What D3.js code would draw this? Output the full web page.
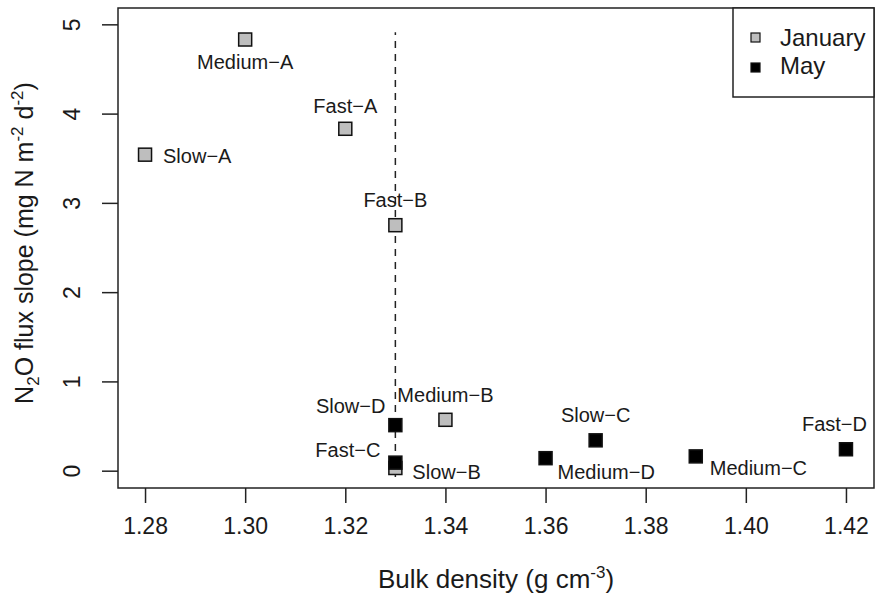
<!DOCTYPE html>
<html>
<head>
<meta charset="utf-8">
<script src="https://cdn.jsdelivr.net/npm/d3@7"></script>
<style>
  body { margin: 0; background: #fff; }
  text { font-family: "Liberation Sans", Arial, sans-serif; fill: #1a1a1a; }
</style>
</head>
<body>
<script>
// 데이터
var names   = ["Medium-A", "Fast-A", "Slow-A", "Fast-B", "Medium-B", "Slow-B",
               "Slow-D", "Fast-C", "Medium-D", "Slow-C", "Medium-C", "Fast-D"];
var density = [1.30, 1.32, 1.28, 1.33, 1.34, 1.33,
               1.33, 1.33, 1.36, 1.37, 1.39, 1.42];
var slope   = [4.83, 3.83, 3.54, 2.75, 0.57, 0.03,
               0.51, 0.09, 0.14, 0.34, 0.16, 0.24];
var month   = ["January", "January", "January", "January", "January", "January",
               "May", "May", "May", "May", "May", "May"];
var months  = ["January", "May"];
var xTicks  = [1.28, 1.30, 1.32, 1.34, 1.36, 1.38, 1.40, 1.42];
var yTicks  = [0, 1, 2, 3, 4, 5];
var refX = 1.33, refY = [-0.07, 4.91];   // 점선 기준선

// 레이블 위치 (점 기준 픽셀 오프셋)
var labelPos = {
  "Medium-A": ["middle", 0, 29],  "Fast-A":   ["middle", 0, -16],
  "Slow-A":   ["start", 18, 8],   "Fast-B":   ["middle", 0, -18],
  "Medium-B": ["middle", 0, -18], "Slow-B":   ["start", 17, 11],
  "Slow-D":   ["end", -10, -12],  "Fast-C":   ["end", -15, -6],
  "Medium-D": ["start", 12, 21],  "Slow-C":   ["middle", 0, -18],
  "Medium-C": ["start", 14, 19],  "Fast-D":   ["end", 21, -18]
};

var W = 875, H = 601;
var pL = 118, pR = 874, pT = 8, pB = 488;

var svg = d3.select("body").append("svg")
  .attr("width", W).attr("height", H);

var x = d3.scaleLinear().domain([1.2746, 1.4256]).range([pL, pR]);
var y = d3.scaleLinear().domain([-0.194, 5.183]).range([pB, pT]);

var fill = { "January": "#bebebe", "May": "#000" };

// 축
var xAxis = svg.append("g")
  .attr("transform", "translate(0," + pB + ")")
  .call(d3.axisBottom(x).tickValues(xTicks).tickFormat(d3.format(".2f"))
        .tickSize(15).tickPadding(15));
xAxis.select(".domain").remove();
xAxis.selectAll("line").attr("stroke", "#222").attr("stroke-width", 1.5);
xAxis.selectAll("text").attr("font-size", "23px").attr("fill", "#1a1a1a")
  .attr("font-family", "Liberation Sans, Arial, sans-serif");

var yAxis = svg.append("g")
  .attr("transform", "translate(" + pL + ",0)")
  .call(d3.axisLeft(y).tickValues(yTicks).tickSize(16).tickFormat(d3.format("d")));
yAxis.select(".domain").remove();
yAxis.selectAll("line").attr("stroke", "#222").attr("stroke-width", 1.5);
yAxis.selectAll("text").remove();
yAxis.selectAll(".tick").append("text")
  .attr("transform", "translate(-38,0) rotate(-90)")
  .attr("text-anchor", "middle")
  .attr("font-size", "23px")
  .text(function (d) { return d; });

// 외곽 박스
svg.append("rect")
  .attr("x", pL).attr("y", pT)
  .attr("width", pR - pL).attr("height", pB - pT)
  .attr("fill", "none").attr("stroke", "#222").attr("stroke-width", 1.5);

// 점선
svg.append("line")
  .attr("x1", x(refX)).attr("x2", x(refX))
  .attr("y1", y(refY[0])).attr("y2", y(refY[1]))
  .attr("stroke", "#222").attr("stroke-width", 1.5)
  .attr("stroke-dasharray", "7,6");

// 점
var idx = d3.range(names.length);
svg.selectAll("rect.pt")
  .data(idx)
  .enter()
  .append("rect")
  .attr("class", "pt")
  .attr("x", function (i) { return x(density[i]) - 6.5; })
  .attr("y", function (i) { return y(slope[i]) - 6.5; })
  .attr("width", 13).attr("height", 13)
  .attr("fill", function (i) { return fill[month[i]]; })
  .attr("stroke", "#111").attr("stroke-width", 1.5);

// 점 레이블
svg.selectAll("text.lab")
  .data(idx)
  .enter()
  .append("text")
  .attr("class", "lab")
  .attr("x", function (i) { return x(density[i]) + labelPos[names[i]][1]; })
  .attr("y", function (i) { return y(slope[i]) + labelPos[names[i]][2]; })
  .attr("text-anchor", function (i) { return labelPos[names[i]][0]; })
  .attr("font-size", "20px")
  .text(function (i) { return names[i].replace("-", "\u2212"); });

// 축 제목
var xt = svg.append("text")
  .attr("x", (pL + pR) / 2).attr("y", 588)
  .attr("text-anchor", "middle").attr("font-size", "26px");
xt.append("tspan").text("Bulk density (g cm");
xt.append("tspan").attr("dy", -10).attr("font-size", "17px").text("-3");
xt.append("tspan").attr("dy", 10).text(")");

var yt = svg.append("text")
  .attr("transform", "translate(33,243) rotate(-90)")
  .attr("text-anchor", "middle").attr("font-size", "25px");
yt.append("tspan").text("N");
yt.append("tspan").attr("dy", 6).attr("font-size", "17px").text("2");
yt.append("tspan").attr("dy", -6).text("O flux slope (mg N m");
yt.append("tspan").attr("dy", -10).attr("font-size", "17px").text("-2");
yt.append("tspan").attr("dy", 10).text(" d");
yt.append("tspan").attr("dy", -10).attr("font-size", "17px").text("-2");
yt.append("tspan").attr("dy", 10).text(")");

// 범례
var lg = svg.append("g");
lg.append("rect")
  .attr("x", 733).attr("y", pT).attr("width", pR - 733).attr("height", 97 - pT)
  .attr("fill", "#fff").attr("stroke", "#222").attr("stroke-width", 1.5);
lg.selectAll("rect.key")
  .data(months)
  .enter()
  .append("rect")
  .attr("class", "key")
  .attr("x", 751).attr("y", function (d, i) { return 33 + i * 30; })
  .attr("width", 9).attr("height", 9)
  .attr("fill", function (d) { return fill[d]; })
  .attr("stroke", "#111").attr("stroke-width", 1.2);
lg.selectAll("text")
  .data(months)
  .enter()
  .append("text")
  .attr("x", 780).attr("y", function (d, i) { return 46 + i * 28; })
  .attr("font-size", "24px")
  .text(function (d) { return d; });
</script>
</body>
</html>
